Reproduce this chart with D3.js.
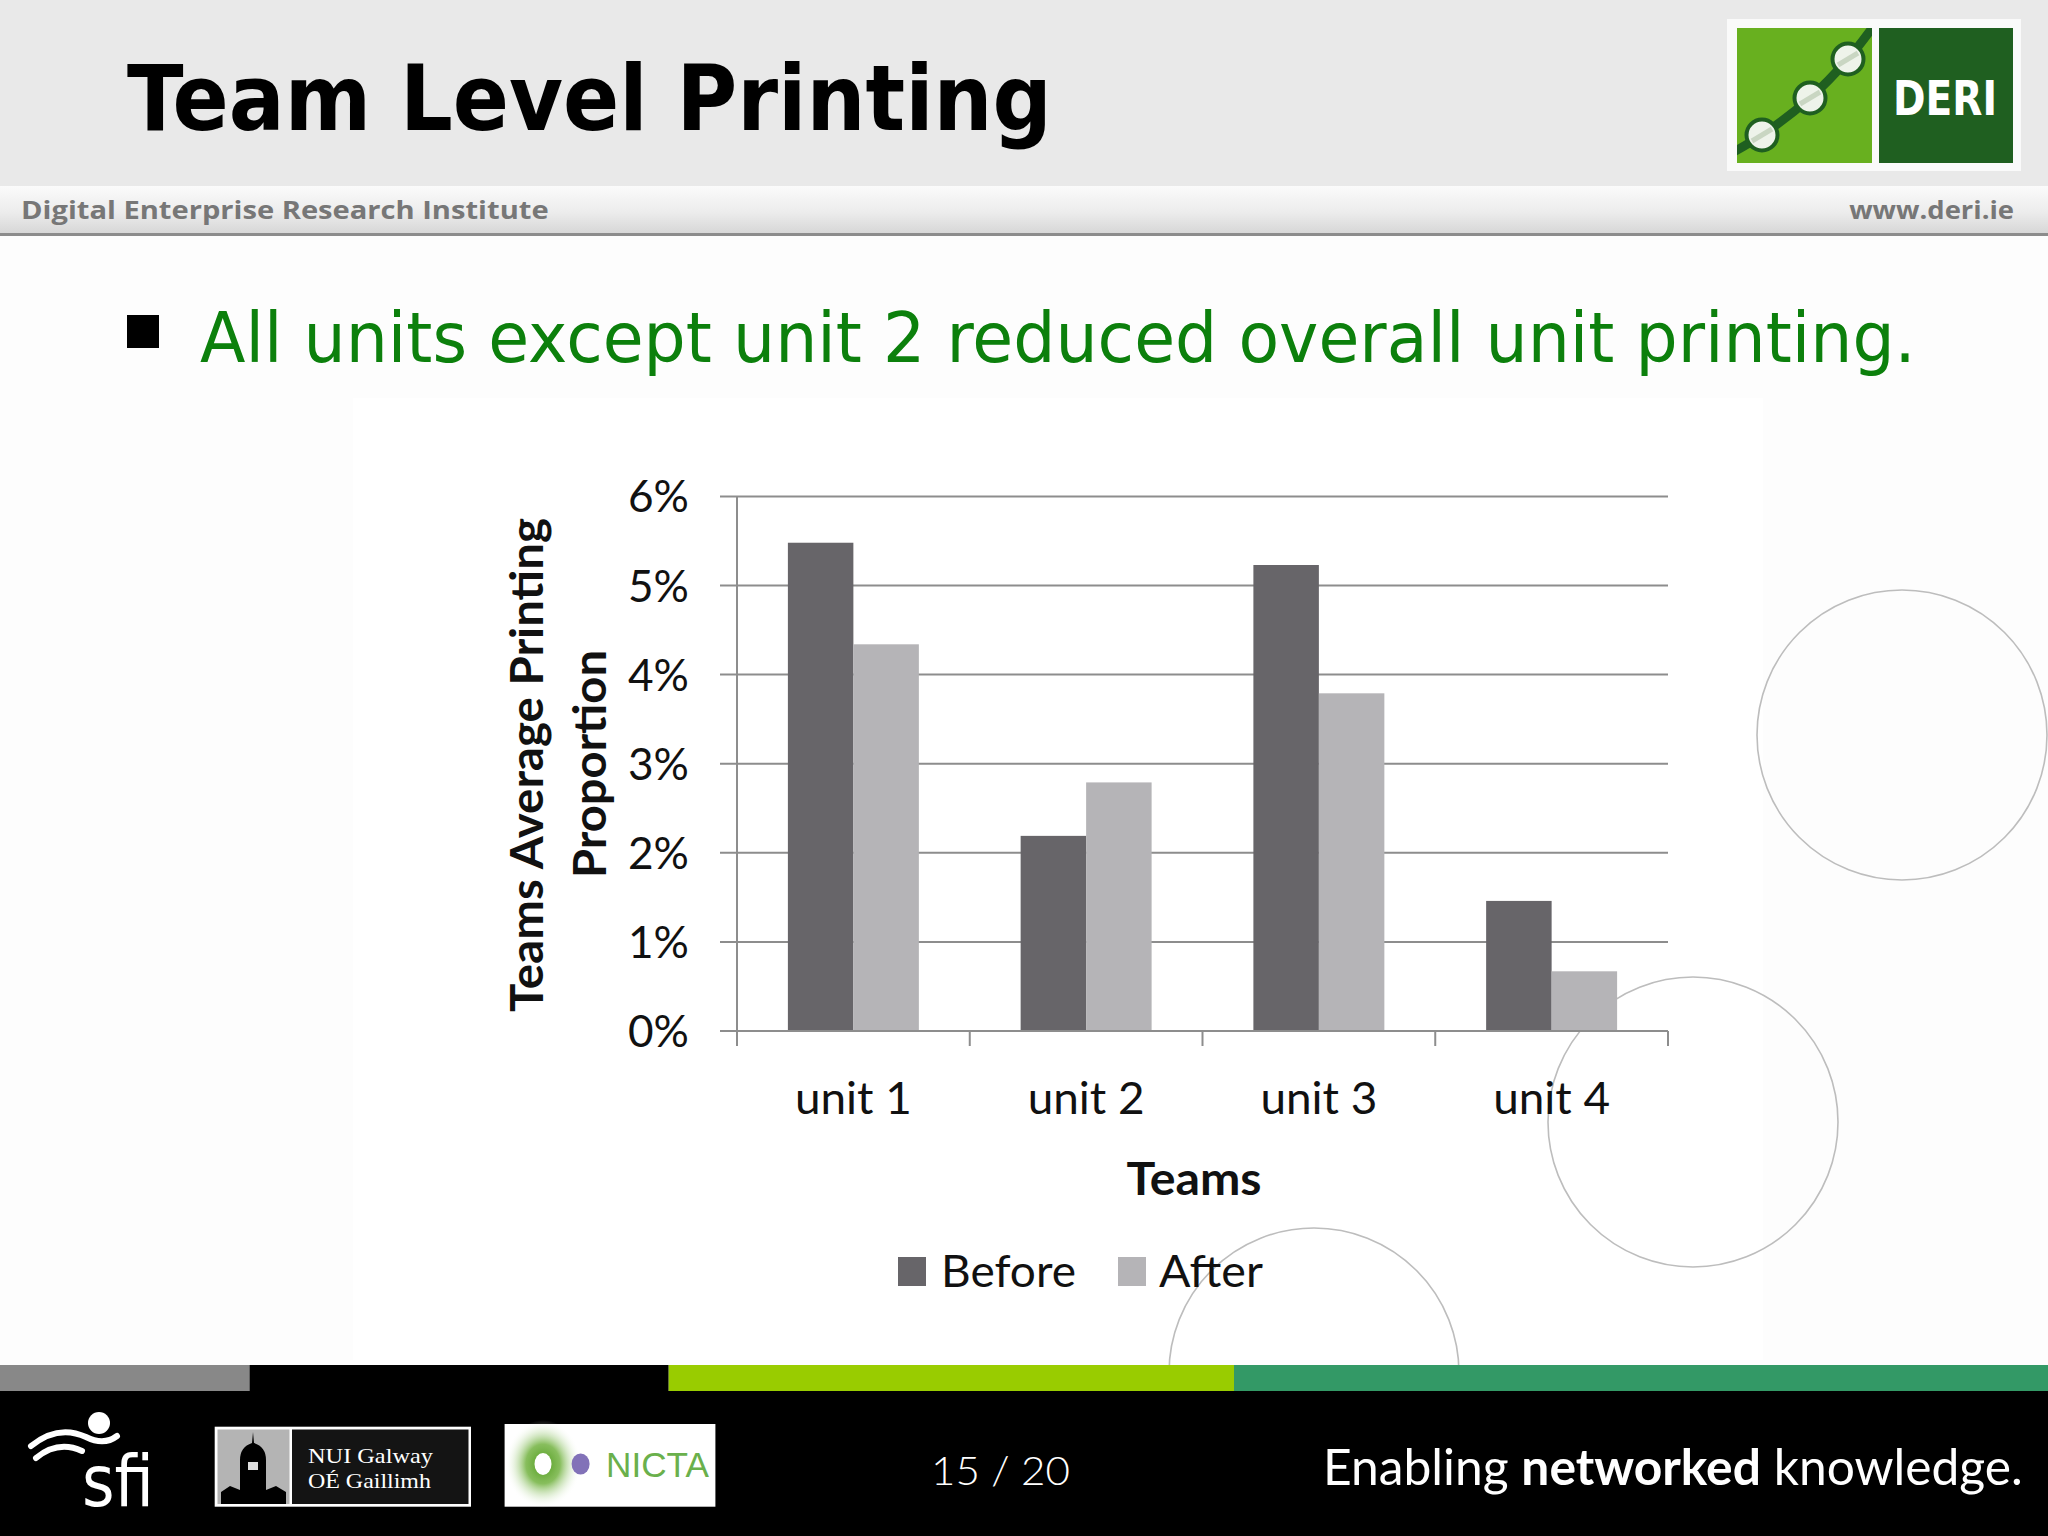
<!DOCTYPE html>
<html><head><meta charset="utf-8">
<script src="https://cdn.jsdelivr.net/npm/d3@7"></script>
<style>html,body{margin:0;padding:0;background:#fff;} svg{display:block;}</style>
</head><body>
<svg id="slide" width="2048" height="1536"></svg>
<script>
// ---------- data ----------
const categories = ["unit 1", "unit 2", "unit 3", "unit 4"];
const seriesNames = ["Before", "After"];
const beforeValues = [5.48, 2.19, 5.23, 1.46];
const afterValues = [4.34, 2.79, 3.79, 0.67];
const yTickValues = [0, 1, 2, 3, 4, 5, 6];
const yTickLabels = ["0%", "1%", "2%", "3%", "4%", "5%", "6%"];
const slideTitle = "Team Level Printing";
const bulletText = "All units except unit 2 reduced overall unit printing.";
const xAxisTitle = "Teams";
const yAxisTitleLines = ["Teams Average Printing", "Proportion"];
const seriesColors = ["#676569", "#b5b4b7"];

const svg = d3.select("#slide");

function label(parent, o) {
  const g = parent.append("g")
    .attr("transform", `translate(${o.x},${o.y})` + (o.rotate ? ` rotate(${o.rotate})` : ""));
  const t = g.append("text").attr("x", 0).attr("y", 0)
    .attr("text-anchor", o.anchor || "start")
    .style("font-family", o.family || "Lato")
    .style("font-size", o.size + "px")
    .style("font-weight", o.weight || 400)
    .attr("fill", o.fill || "#000");
  if (o.parts) {
    o.parts.forEach(p => t.append("tspan").style("font-weight", p.weight || 400).text(p.text));
  } else t.text(o.text);
  if (o.width) {
    const L = t.node().getComputedTextLength();
    if (L > 0) t.attr("transform", `scale(${o.width / L},1)`);
  }
  return t;
}

// ---------- background ----------
svg.append("rect").attr("width", 2048).attr("height", 1536).attr("fill", "#fdfdfd");
svg.append("rect").attr("x", 353).attr("y", 398).attr("width", 1410).attr("height", 962).attr("fill", "#ffffff");

// decorative circles
const circ = [[1902, 735, 145], [1693, 1122, 145], [1314, 1373, 145]];
svg.append("g").selectAll("circle").data(circ).join("circle")
  .attr("cx", d => d[0]).attr("cy", d => d[1]).attr("r", d => d[2])
  .attr("fill", "none").attr("stroke", "#bdbdbd").attr("stroke-width", 1.6);

// ---------- header ----------
const defs = svg.append("defs");
const hg = defs.append("linearGradient").attr("id", "strip").attr("x1", 0).attr("x2", 0).attr("y1", 0).attr("y2", 1);
hg.append("stop").attr("offset", "0%").attr("stop-color", "#fbfbfb");
hg.append("stop").attr("offset", "55%").attr("stop-color", "#ececec");
hg.append("stop").attr("offset", "100%").attr("stop-color", "#d6d6d6");
svg.append("rect").attr("x", 0).attr("y", 0).attr("width", 2048).attr("height", 186).attr("fill", "#e9e9e9");
svg.append("rect").attr("x", 0).attr("y", 186).attr("width", 2048).attr("height", 48).attr("fill", "url(#strip)");
svg.append("rect").attr("x", 0).attr("y", 233).attr("width", 2048).attr("height", 3).attr("fill", "#8c8c8c");

label(svg, {x: 127, y: 130, text: slideTitle, family: "DejaVu Sans", weight: 700, size: 90, width: 925, fill: "#000"});
label(svg, {x: 21, y: 219, text: "Digital Enterprise Research Institute", family: "Open Sans", weight: 700, size: 25, width: 528, fill: "#777"});
label(svg, {x: 2014, y: 219, text: "www.deri.ie", anchor: "end", family: "Open Sans", weight: 700, size: 25, width: 165, fill: "#777"});

// DERI logo
const lg = svg.append("g");
lg.append("rect").attr("x", 1727).attr("y", 19).attr("width", 294).attr("height", 152).attr("fill", "#fafafa");
lg.append("rect").attr("x", 1737).attr("y", 28).attr("width", 135).attr("height", 135).attr("fill", "#68b01f");
lg.append("rect").attr("x", 1879).attr("y", 28).attr("width", 134).attr("height", 135).attr("fill", "#1f5f20");
defs.append("clipPath").attr("id", "lgclip").append("rect").attr("x", 1737).attr("y", 28).attr("width", 135).attr("height", 135);
const lgc = lg.append("g").attr("clip-path", "url(#lgclip)");
const lpts = [[1728, 155], [1762, 135], [1810, 98], [1848, 59], [1878, 20]];
lgc.append("path").attr("d", d3.line().curve(d3.curveCatmullRom)(lpts)).attr("fill", "none").attr("stroke", "#1f5f20").attr("stroke-width", 9);
lgc.selectAll("circle.c").data(lpts.slice(1, 4)).join("circle")
  .attr("cx", d => d[0]).attr("cy", d => d[1]).attr("r", 15.5)
  .attr("fill", "#eef3ea").attr("stroke", "#1f5f20").attr("stroke-width", 4);
lgc.selectAll("line.s").data(lpts.slice(1, 4)).join("line")
  .attr("x1", d => d[0] - 10).attr("y1", d => d[1] + 6).attr("x2", d => d[0] + 10).attr("y2", d => d[1] - 6)
  .attr("stroke", "#c9d6c2").attr("stroke-width", 5);
label(lg, {x: 1945, y: 115, text: "DERI", anchor: "middle", family: "DejaVu Sans", weight: 700, size: 48, width: 104, fill: "#ffffff"});

// ---------- bullet ----------
svg.append("rect").attr("x", 127).attr("y", 315).attr("width", 32).attr("height", 33).attr("fill", "#000");
label(svg, {x: 200, y: 362, text: bulletText, family: "DejaVu Sans", size: 70, width: 1716, fill: "#0c800c"});

// ---------- chart ----------
const plot = {left: 737, right: 1668, top: 496.4, bottom: 1031};
const y = d3.scaleLinear().domain([0, 6]).range([plot.bottom, plot.top]);
const x0 = d3.scaleBand().domain(categories).range([plot.left, plot.right]).padding(0);
const x1 = d3.scaleBand().domain(seriesNames).range([0, x0.bandwidth()]).paddingInner(0).paddingOuter(0.777);
const axisColor = "#8d8d8d";
const chart = svg.append("g");

// gridlines + outward ticks
chart.append("g").selectAll("line").data(yTickValues).join("line")
  .attr("x1", plot.left - 17).attr("x2", plot.right)
  .attr("y1", d => y(d)).attr("y2", d => y(d))
  .attr("stroke", axisColor).attr("stroke-width", 2);
// y axis line
chart.append("line").attr("x1", plot.left).attr("x2", plot.left).attr("y1", plot.top).attr("y2", plot.bottom)
  .attr("stroke", axisColor).attr("stroke-width", 2);
// x boundary ticks
const bounds = categories.map(c => x0(c)).concat([plot.right]);
chart.append("g").selectAll("line").data(bounds).join("line")
  .attr("x1", d => d).attr("x2", d => d).attr("y1", plot.bottom).attr("y2", plot.bottom + 15)
  .attr("stroke", axisColor).attr("stroke-width", 2);

// bars
const rows = categories.map((c, i) => ({cat: c, vals: [beforeValues[i], afterValues[i]]}));
const grp = chart.append("g").selectAll("g").data(rows).join("g")
  .attr("transform", d => `translate(${x0(d.cat)},0)`);
grp.selectAll("rect").data(d => d.vals.map((v, j) => ({s: seriesNames[j], v, j}))).join("rect")
  .attr("x", d => x1(d.s)).attr("width", x1.bandwidth())
  .attr("y", d => y(d.v)).attr("height", d => y(0) - y(d.v))
  .attr("fill", d => seriesColors[d.j]);
// redraw baseline over bars
chart.append("line").attr("x1", plot.left - 17).attr("x2", plot.right).attr("y1", y(0)).attr("y2", y(0))
  .attr("stroke", axisColor).attr("stroke-width", 2);

// y tick labels
yTickValues.forEach((v, i) => {
  label(chart, {x: 689, y: y(v) + 16, text: yTickLabels[i], anchor: "end", size: 45, width: 61, fill: "#111"});
});
// x tick labels
categories.forEach(c => {
  label(chart, {x: x0(c) + x0.bandwidth() / 2, y: 1114, text: c, anchor: "middle", size: 45, width: 117, fill: "#111"});
});
// axis titles
label(chart, {x: 1194, y: 1195, text: xAxisTitle, anchor: "middle", size: 45, weight: 700, width: 135, fill: "#111"});
label(chart, {x: 543, y: 765, text: yAxisTitleLines[0], anchor: "middle", rotate: -90, size: 45, weight: 700, width: 494, fill: "#111"});
label(chart, {x: 606, y: 764, text: yAxisTitleLines[1], anchor: "middle", rotate: -90, size: 45, weight: 700, width: 228, fill: "#111"});

// legend
const legendItems = [{x: 898, tx: 941, w: 135}, {x: 1118, tx: 1159, w: 104}];
seriesNames.forEach((s, i) => {
  chart.append("rect").attr("x", legendItems[i].x).attr("y", 1257).attr("width", 28).attr("height", 29).attr("fill", seriesColors[i]);
  label(chart, {x: legendItems[i].tx, y: 1287, text: s, size: 45, width: legendItems[i].w, fill: "#111"});
});

// ---------- footer ----------
const footBars = [[0, 249.5, "#888888"], [249.5, 668.7, "#000000"], [668.7, 1234, "#99cc00"], [1234, 2048, "#339966"]];
svg.append("g").selectAll("rect").data(footBars).join("rect")
  .attr("x", d => d[0]).attr("y", 1365).attr("width", d => d[1] - d[0]).attr("height", 26).attr("fill", d => d[2]);
svg.append("rect").attr("x", 0).attr("y", 1391).attr("width", 2048).attr("height", 145).attr("fill", "#000");

// sfi logo
const sfi = svg.append("g");
sfi.append("circle").attr("cx", 99).attr("cy", 1423).attr("r", 11).attr("fill", "#fff");
sfi.append("path").attr("d", "M31,1446 Q58,1424 86,1437 Q104,1446 117,1436").attr("fill", "none").attr("stroke", "#fff").attr("stroke-width", 6).attr("stroke-linecap", "round");
sfi.append("path").attr("d", "M36,1458 Q58,1440 82,1451").attr("fill", "none").attr("stroke", "#fff").attr("stroke-width", 6).attr("stroke-linecap", "round");
label(sfi, {x: 82, y: 1506, text: "sfi", family: "DejaVu Sans", size: 72, width: 72, fill: "#fff"});

// NUI Galway
const nui = svg.append("g");
nui.append("rect").attr("x", 214.7).attr("y", 1426.7).attr("width", 256.3).attr("height", 80).attr("fill", "#fff");
nui.append("rect").attr("x", 217.5).attr("y", 1429.5).attr("width", 72).attr("height", 74.5).attr("fill", "#b4b4b4");
nui.append("rect").attr("x", 292).attr("y", 1429.5).attr("width", 176.5).attr("height", 74.5).attr("fill", "#141414");
nui.append("path").attr("d", "M221,1504 L221,1492 L230,1486 L240,1490 L240,1460 Q240,1447 252,1443 L253,1432 L254,1443 Q266,1447 266,1460 L266,1490 L276,1486 L286,1492 L286,1504 Z").attr("fill", "#000");
nui.append("rect").attr("x", 248).attr("y", 1462).attr("width", 10).attr("height", 8).attr("fill", "#ddd");
label(nui, {x: 308, y: 1463, text: "NUI Galway", family: "Liberation Serif", size: 21, width: 125, fill: "#fff"});
label(nui, {x: 308, y: 1488, text: "OÉ Gaillimh", family: "Liberation Serif", size: 21, width: 123, fill: "#fff"});

// NICTA
const nic = svg.append("g");
nic.append("rect").attr("x", 504.6).attr("y", 1424).attr("width", 210.8).attr("height", 82.7).attr("fill", "#fff");
const rg = defs.append("radialGradient").attr("id", "glow");
rg.append("stop").attr("offset", "0%").attr("stop-color", "#4f9a1e").attr("stop-opacity", 1);
rg.append("stop").attr("offset", "45%").attr("stop-color", "#6aae35").attr("stop-opacity", 0.8);
rg.append("stop").attr("offset", "100%").attr("stop-color", "#ffffff").attr("stop-opacity", 0);
nic.append("ellipse").attr("cx", 543).attr("cy", 1464).attr("rx", 38).attr("ry", 44).attr("fill", "url(#glow)");
nic.append("ellipse").attr("cx", 543).attr("cy", 1464).attr("rx", 8.5).attr("ry", 11).attr("fill", "#fff");
nic.append("ellipse").attr("cx", 580.6).attr("cy", 1464).attr("rx", 9).attr("ry", 10.5).attr("fill", "#8272b8");
label(nic, {x: 606, y: 1477, text: "NICTA", family: "Liberation Sans", size: 36, width: 103, fill: "#6ab04c"});

// page number and tagline
label(svg, {x: 931, y: 1485, text: "15 / 20", family: "Lato", weight: 300, size: 39, width: 139, fill: "#fff"});
label(svg, {x: 1323, y: 1485, parts: [{text: "Enabling "}, {text: "networked", weight: 700}, {text: " knowledge."}],
  family: "Lato", weight: 300, size: 50, width: 700, fill: "#fff"});
</script>
</body></html>
